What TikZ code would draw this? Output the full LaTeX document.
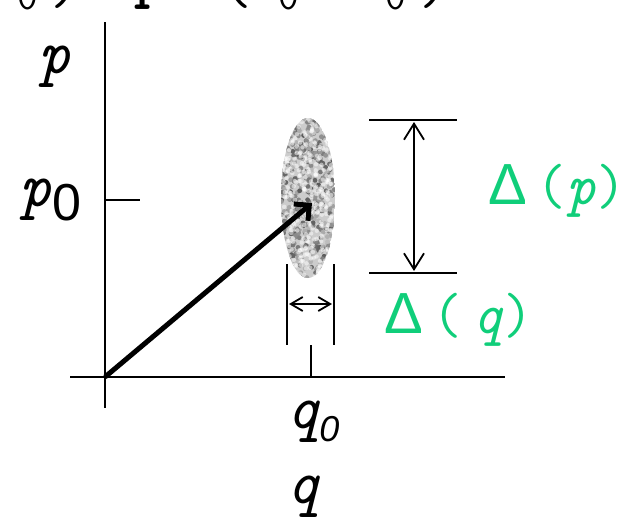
\documentclass[tikz,border=0pt]{standalone}
\usepackage{fontspec}
\newfontfamily\sans{Liberation Sans}
\usetikzlibrary{arrows.meta}
\definecolor{dgreen}{RGB}{16,206,122}
\begin{document}
\begin{tikzpicture}[x=1pt,y=-1pt,
  axis/.style={line width=1.8pt,black},
  lab/.style={anchor=base west,inner sep=0pt,font=\ttfamily\itshape\fontsize{63}{63}\selectfont},
  top/.style={anchor=base,inner sep=0pt,font=\ttfamily\fontsize{60}{60}\selectfont},
  topsub/.style={anchor=base,inner sep=0pt,font=\ttfamily\fontsize{40}{40}\selectfont},
  glab/.style={anchor=base west,inner sep=0pt,text=dgreen,font=\fontsize{58}{58}\selectfont},
  dim/.style={line width=1.8pt},
  dimarrow/.style={line width=1.8pt,{Straight Barb[length=16pt,width=20pt,line width=1.8pt]}-{Straight Barb[length=16pt,width=20pt,line width=1.8pt]}},
  smallarrow/.style={line width=1.8pt,{Straight Barb[length=12pt,width=14pt,line width=1.8pt]}-{Straight Barb[length=12pt,width=14pt,line width=1.8pt]}}]
\useasboundingbox (0,0) rectangle (627,517);
\begin{scope}
\clip (0,0) rectangle (627,517);
% cut-off top text (only the bottoms show)
\node[topsub] (t1) at (28,9) {0};
\node[top] (t2) at (66,3) {)};
\node[top,font=\ttfamily\bfseries\fontsize{60}{60}\selectfont] (t3) at (150,-4) {p};
\node[top] (t4) at (237,3) {(};
\node[topsub] (t5) at (289,9) {0};
\node[topsub] (t6) at (396,9) {0};
\node[top] (t7) at (435,3) {)};
\end{scope}
% axes
\coordinate (ytop) at (105,22);
\coordinate (ybot) at (105,408);
\coordinate (xl) at (70,377);
\coordinate (xr) at (505,377);
\coordinate (O) at (105,377);
\draw[axis] (ytop) -- (ybot);
\draw[axis] (xl) -- (xr);
% ticks
\coordinate (p0a) at (105,200); \coordinate (p0b) at (140,200);
\draw[axis] (p0a) -- (p0b);
\coordinate (q0a) at (311,345); \coordinate (q0b) at (311,377);
\draw[axis] (q0a) -- (q0b);
% labels
\node[lab] (plab) at (38,73) {p};
\node[lab] (p0lab) at (19,206) {p\raisebox{-14pt}{\sans\upshape\fontsize{52}{52}\selectfont 0}};
\node[lab] (q0lab) at (286,428) {q\raisebox{-13pt}{\sans\itshape\fontsize{36}{36}\selectfont 0}};
\node[lab] (qlab) at (286,503) {q};
% ellipse with speckle
\begin{scope}
\clip (308,198) ellipse (27 and 80);
\fill[gray!40] (308,198) ellipse (27 and 80);
\pgfmathsetseed{11}
\foreach \i in {1,...,450} {
  \pgfmathsetmacro{\xx}{281+54*rnd}
  \pgfmathsetmacro{\yy}{118+160*rnd}
  \pgfmathsetmacro{\gg}{25+40*rnd}
  \fill[black!\gg] (\xx,\yy) circle (2.4);
}
\foreach \i in {1,...,350} {
  \pgfmathsetmacro{\xx}{281+54*rnd}
  \pgfmathsetmacro{\yy}{118+160*rnd}
  \fill[white,opacity=0.5] (\xx,\yy) circle (2.2);
}
\end{scope}
% main arrow
\coordinate (tip) at (312,203);
\draw[line width=5pt,-{Straight Barb[length=11pt,width=22pt,line width=5pt]}] (O) -- (tip);
% Delta p dimension
\coordinate (hp1) at (369,120); \coordinate (hp2) at (457,120);
\coordinate (hq1) at (369,273); \coordinate (hq2) at (457,273);
\draw[dim] (hp1) -- (hp2);
\draw[dim] (hq1) -- (hq2);
\coordinate (va) at (414,122); \coordinate (vb) at (414,271);
\draw[dimarrow] (va) -- (vb);
% Delta q dimension
\coordinate (s1a) at (287,264); \coordinate (s1b) at (287,345);
\coordinate (s2a) at (334,264); \coordinate (s2b) at (334,345);
\draw[dim] (s1a) -- (s1b);
\draw[dim] (s2a) -- (s2b);
\coordinate (ha) at (289,304); \coordinate (hb) at (332,304);
\draw[smallarrow] (ha) -- (hb);
% green labels
\node[glab] (dp) at (488,204) {{\sans\char"0394}\,{\ttfamily(\textit{p})}};
\node[glab] (dq) at (384,333) {{\sans\char"0394}\,{\ttfamily(\,\textit{q})}};
\end{tikzpicture}
\end{document}
